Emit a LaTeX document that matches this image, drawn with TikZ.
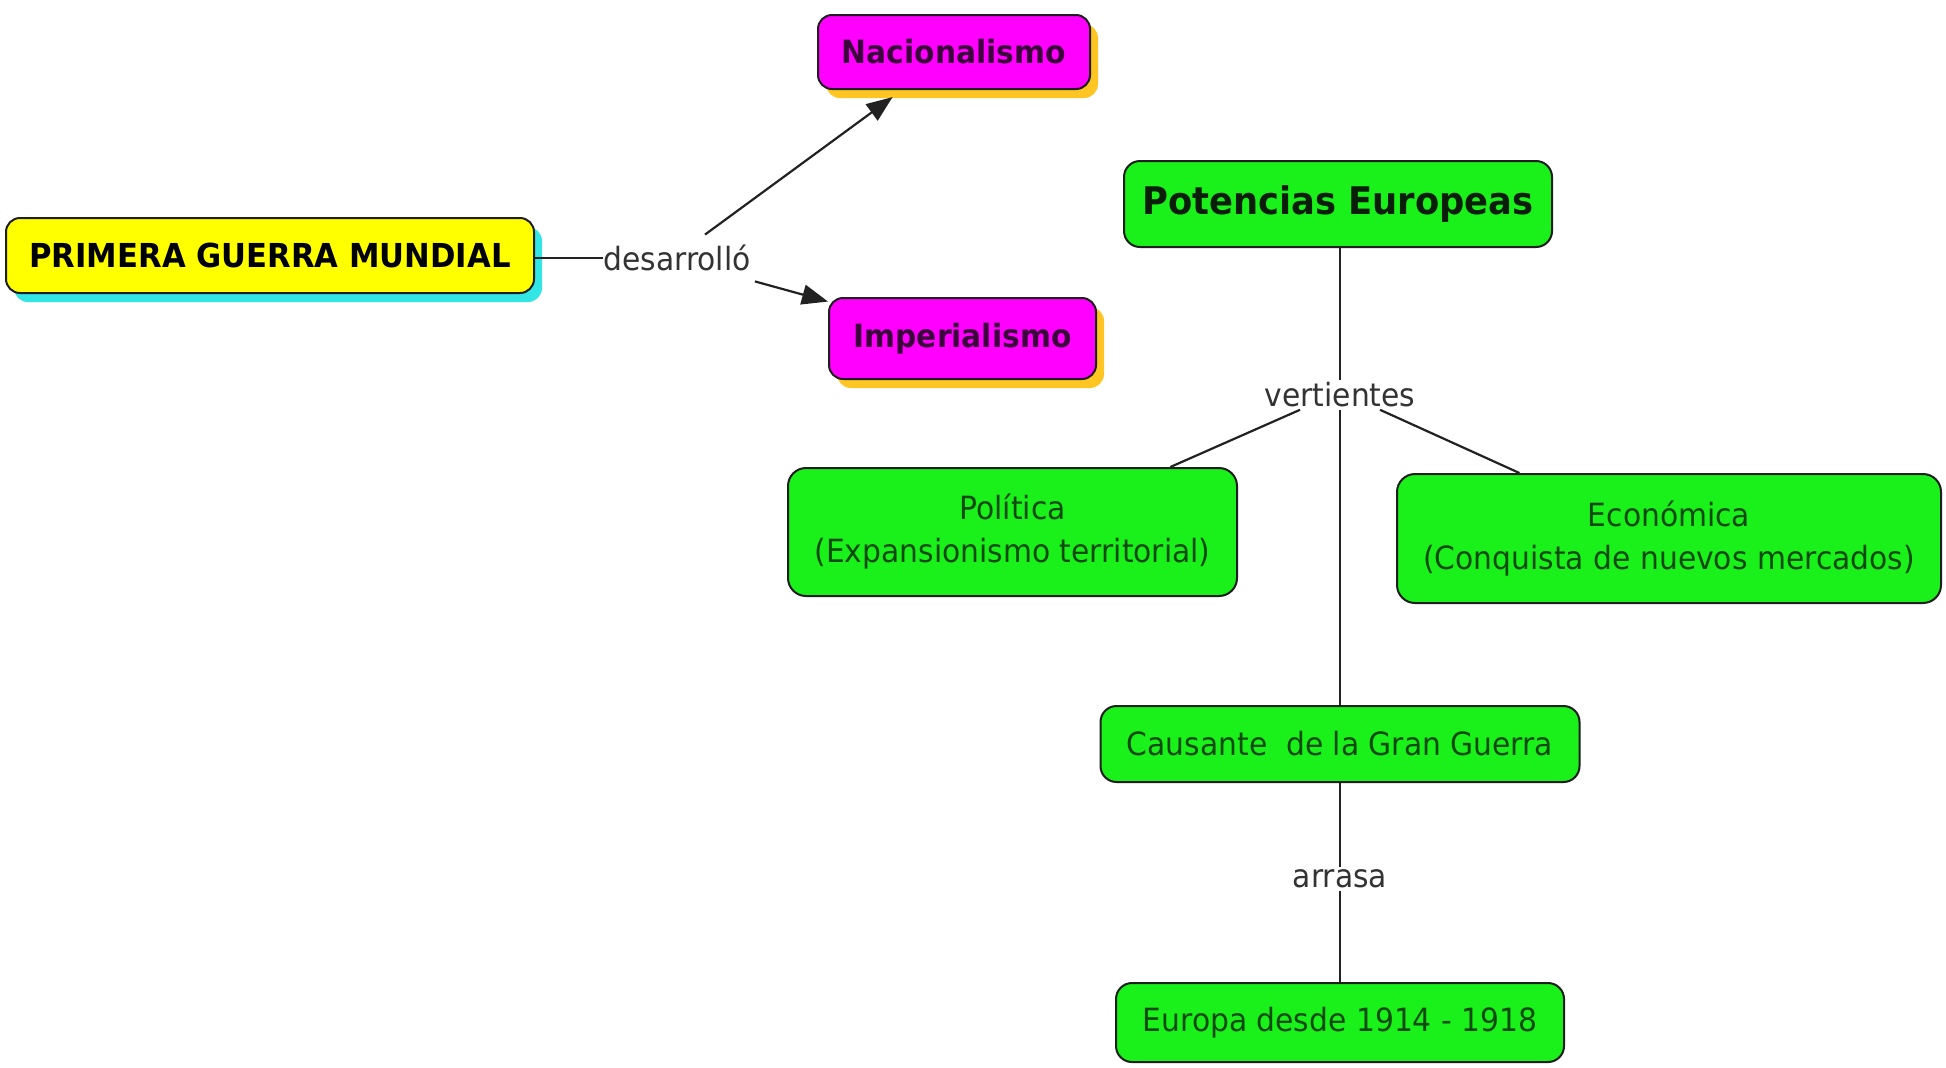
\documentclass[tikz,border=0pt]{standalone}
\usepackage{fontspec}
\setmainfont{DejaVu Sans}[FakeStretch=0.93]
\usetikzlibrary{shadows,arrows.meta,calc}
\definecolor{cyel}{HTML}{FFFF00}
\definecolor{ccyan}{HTML}{33E6E6}
\definecolor{cmag}{HTML}{FF00FF}
\definecolor{corange}{HTML}{FFC522}
\definecolor{cgreen}{HTML}{1AF01A}
\definecolor{boxline}{HTML}{1E1E1E}
\definecolor{gtext}{HTML}{0E4A0E}
\definecolor{gbold}{HTML}{0A1E0A}
\definecolor{mtext}{HTML}{3C003C}
\definecolor{lbltext}{HTML}{333333}
\definecolor{linec}{HTML}{222222}
\begin{document}
\begin{tikzpicture}[x=0.5pt,y=-0.5pt,
  box/.style={draw=boxline, line width=1pt, rounded corners=7pt, inner sep=0pt, align=center},
  ybox/.style={box, fill=cyel, text=black,
    drop shadow={fill=ccyan, opacity=1, shadow xshift=4pt, shadow yshift=-4.5pt},
    font=\fontsize{16.5}{20}\selectfont\bfseries},
  mbox/.style={box, fill=cmag, text=mtext,
    drop shadow={fill=corange, opacity=1, shadow xshift=4pt, shadow yshift=-4.5pt},
    font=\fontsize{16}{19}\selectfont\bfseries},
  gbox/.style={box, fill=cgreen, text=gtext, rounded corners=9pt, font=\fontsize{16}{21.5}\selectfont},
  lbl/.style={text=lbltext, inner sep=1pt, font=\fontsize{16}{19}\selectfont},
  link/.style={draw=linec, line width=1.1pt},
  arr/.style={link, -{Triangle[length=13pt,width=10pt]}}
]
\useasboundingbox[fill=white] (0,0) rectangle (1946,1067);

% nodes
\node[ybox, minimum width=264pt, minimum height=37.5pt] (pgm) at (270,255.5) {PRIMERA GUERRA MUNDIAL};
\node[mbox, minimum width=136pt, minimum height=37pt] (nac) at (954,52) {Nacionalismo};
\node[mbox, minimum width=133.5pt, minimum height=40.5pt] (imp) at (962.5,338.5) {Imperialismo};
\node[gbox, text=gbold, font=\fontsize{19}{22}\selectfont\bfseries, rounded corners=8pt,
      minimum width=214pt, minimum height=43pt] (pe) at (1338,204) {Potencias Europeas};
\node[gbox, minimum width=224.5pt, minimum height=64pt] (pol) at (1012.5,532) {Política\\(Expansionismo territorial)};
\node[gbox, minimum width=272pt, minimum height=64.5pt] (eco) at (1669,538.5) {Económica\\(Conquista de nuevos mercados)};
\node[gbox, rounded corners=8pt, minimum width=239.5pt, minimum height=38pt] (cau) at (1340,744) {Causante\ \ de la Gran Guerra};
\node[gbox, rounded corners=8pt, minimum width=224pt, minimum height=39.5pt] (eur) at (1340,1022.5) {Europa desde 1914 - 1918};

% linking phrases
\node[lbl, inner sep=0pt] (des) at (677,258) {desarrolló};
\node[lbl] (ver) at (1340,395) {vertientes};
\node[lbl] (arrs) at (1340,879) {arrasa};

% connectors
\draw[link] (pgm.east |- des) -- (des);
\draw[arr, shorten >=6pt] ([xshift=14pt,yshift=5pt]des.north) -- (nac);
\draw[arr] ([xshift=2pt,yshift=-5pt]des.south east) -- (imp);

\draw[link] (pe.south -| ver) -- (ver);
\draw[link] ([xshift=-20pt]ver.south) -- ($(pol.north west)!0.85!(pol.north east)$);
\draw[link] ([xshift=20pt]ver.south) -- ($(eco.north west)!0.226!(eco.north east)$);
\draw[link] (ver) -- (cau.north -| ver);
\draw[link] (cau.south -| ver) -- (arrs);
\draw[link] (arrs) -- (eur.north -| arrs);
\end{tikzpicture}
\end{document}
